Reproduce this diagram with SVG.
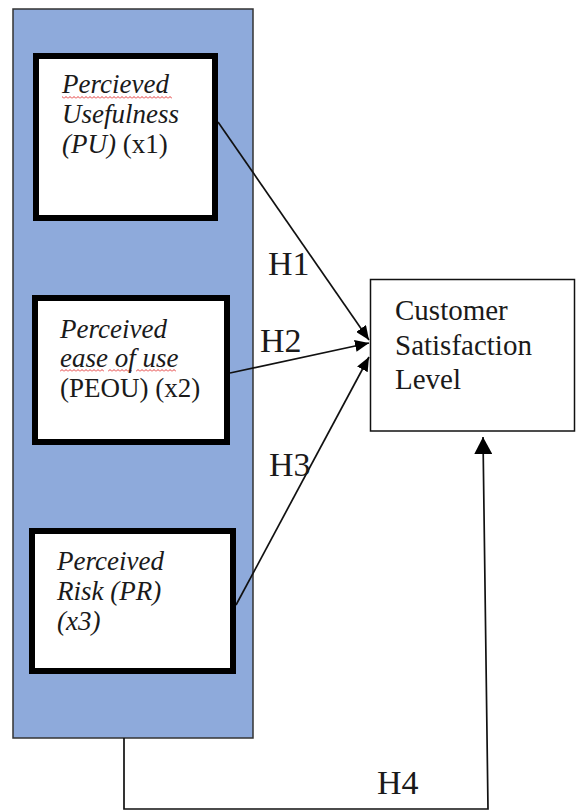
<svg xmlns="http://www.w3.org/2000/svg" width="576" height="810" viewBox="0 0 576 810">
  <style>
    .t { font-family: 'Liberation Serif', 'Times New Roman', serif; fill: #1a1a1a; }
    .bx { font-size: 27px; }
    .it { font-style: italic; }
    .lbl { font-size: 34px; }
    .cs { font-size: 29px; }
    .box { fill: #ffffff; stroke: #000000; stroke-width: 6; }
    .conn { fill: none; stroke: #111111; stroke-width: 1.7; }
  </style>
  <defs>
    <marker id="ah" markerUnits="userSpaceOnUse" markerWidth="14" markerHeight="12" refX="14" refY="6" orient="auto">
      <path d="M0,0 L14,6 L0,12 Z" fill="#000"/>
    </marker>
    <marker id="ah4" markerUnits="userSpaceOnUse" markerWidth="17" markerHeight="18" refX="17" refY="9" orient="auto">
      <path d="M0,0 L17,9 L0,18 Z" fill="#000"/>
    </marker>
    <pattern id="wave" patternUnits="userSpaceOnUse" width="4" height="3">
      <path d="M0,2.5 L2,0.5 L4,2.5" fill="none" stroke="#e02020" stroke-width="0.9"/>
    </pattern>
  </defs>

  <g id="panel">
    <rect x="13" y="9" width="240" height="729" fill="#8eaadb" stroke="#333" stroke-width="1.5"/>
  </g>

  <g id="connectors">
    <line class="conn" x1="218" y1="122" x2="369" y2="340" marker-end="url(#ah)"/>
    <line class="conn" x1="230" y1="373" x2="369" y2="343" marker-end="url(#ah)"/>
    <line class="conn" x1="236" y1="605" x2="369" y2="357" marker-end="url(#ah)"/>
    <path class="conn" d="M124,738 L124,809 L488,809 L483,437" marker-end="url(#ah4)"/>
    <text class="t lbl" x="268" y="275">H1</text>
    <text class="t lbl" x="260" y="352">H2</text>
    <text class="t lbl" x="269" y="476">H3</text>
    <text class="t lbl" x="377" y="794">H4</text>
  </g>

  <g id="pu">
    <rect class="box" x="36" y="56" width="179" height="162"/>
    <rect x="62" y="96" width="110" height="3" fill="url(#wave)"/>
    <text class="t bx it" x="62" y="93">Percieved</text>
    <text class="t bx it" x="62" y="123">Usefulness</text>
    <text class="t bx" x="62" y="153"><tspan class="it">(PU)</tspan> (x1)</text>
  </g>

  <g id="peou">
    <rect class="box" x="35" y="298" width="192" height="144"/>
    <rect x="60" y="369" width="44" height="3" fill="url(#wave)"/>
    <rect x="108" y="369" width="24" height="3" fill="url(#wave)"/>
    <rect x="136" y="369" width="40" height="3" fill="url(#wave)"/>
    <text class="t bx it" x="60" y="338">Perceived</text>
    <text class="t bx it" x="60" y="367">ease of use</text>
    <text class="t bx" x="60" y="397">(PEOU) (x2)</text>
  </g>

  <g id="pr">
    <rect class="box" x="32" y="531" width="201" height="140"/>
    <text class="t bx it" x="57" y="570">Perceived</text>
    <text class="t bx it" x="57" y="600">Risk (PR)</text>
    <text class="t bx it" x="57" y="630">(x3)</text>
  </g>

  <g id="csl">
    <rect x="370.5" y="279.5" width="204" height="151.5" fill="#ffffff" stroke="#111" stroke-width="1.5"/>
    <text class="t cs" x="395" y="320">Customer</text>
    <text class="t cs" x="395" y="355">Satisfaction</text>
    <text class="t cs" x="395" y="389">Level</text>
  </g>
</svg>
